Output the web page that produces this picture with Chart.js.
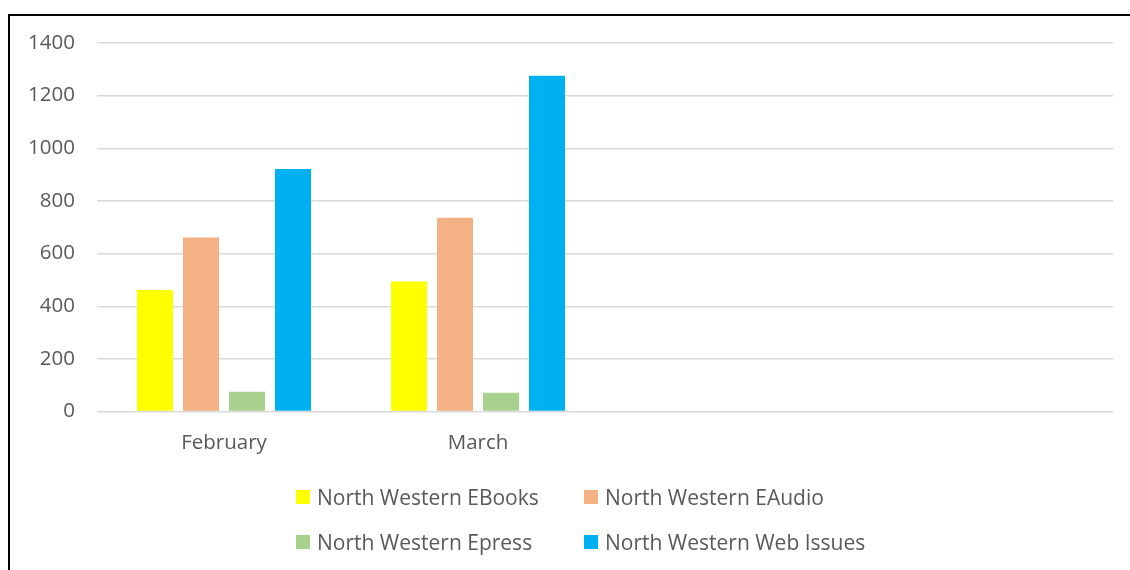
<!DOCTYPE html>
<html>
<head>
<meta charset="utf-8">
<script src="https://cdn.jsdelivr.net/npm/chart.js@4/dist/chart.umd.min.js"></script>
<style>
  html, body { margin: 0; padding: 0; background: #ffffff; }
  #wrap { position: relative; width: 1130px; height: 570px; overflow: hidden; background: #fff; }
  #frame { position: absolute; left: 8px; top: 14px; width: 1200px; height: 600px;
           border-left: 2px solid #000; border-top: 2px solid #000; box-sizing: border-box; }
  #cv { position: absolute; left: 0; top: 0; }
  .leg { position: absolute; font-family: "Open Sans", sans-serif; font-size: 21px; color: #595959;
         line-height: 24px; white-space: nowrap; }
  .leg .box { position: absolute; left: 0; top: 5px; width: 14px; height: 14px; }
  .leg .txt { position: absolute; left: 21px; top: 0; }
</style>
</head>
<body>
<div id="wrap">
  <div id="frame"></div>
  <canvas id="cv" width="1130" height="570"></canvas>
  <div id="legend"></div>
</div>
<script>
const categories = ['February', 'March', '', ''];
const seriesNames = ['North Western EBooks', 'North Western EAudio', 'North Western Epress', 'North Western Web Issues'];
const ebooks = [462, 494, null, null];
const eaudio = [661, 736, null, null];
const epress = [75, 71, null, null];
const webIssues = [921, 1276, null, null];
const seriesColors = ['#FFFF00', '#F4B183', '#A9D18E', '#00B0F0'];
const yTicks = [0, 200, 400, 600, 800, 1000, 1200, 1400];

const allSeries = [ebooks, eaudio, epress, webIssues];
const datasets = allSeries.map((d, i) => ({
  label: seriesNames[i],
  data: d,
  backgroundColor: seriesColors[i],
  borderWidth: 0,
  categoryPercentage: 0.7244,
  barPercentage: 0.7826
}));

const tickFont = { family: '"Open Sans", sans-serif', size: 20.5 };

new Chart(document.getElementById('cv'), {
  type: 'bar',
  data: { labels: categories, datasets },
  options: {
    responsive: false,
    animation: false,
    devicePixelRatio: 1,
    layout: { padding: { left: 0, top: 43, right: 17, bottom: 100 } },
    plugins: { legend: { display: false }, tooltip: { enabled: false } },
    scales: {
      x: {
        grid: { display: false, drawTicks: false },
        border: { display: false },
        ticks: { color: '#595959', font: tickFont, padding: 19.5, maxRotation: 0, autoSkip: false },
        afterFit: (s) => { s.height = 58.5; }
      },
      y: {
        min: yTicks[0],
        max: yTicks[yTicks.length - 1],
        afterBuildTicks: (s) => { s.ticks = yTicks.map(v => ({ value: v })); },
        grid: { color: '#d9d9d9', lineWidth: 1.4, drawTicks: false },
        border: { display: false },
        ticks: { color: '#595959', font: tickFont, padding: 22, callback: (v) => String(v) },
        afterFit: (s) => { s.width = 97; }
      }
    }
  }
});

// HTML legend (two columns, two rows)
const legPos = [[296, 485], [584, 485], [296, 530], [584, 530]];
const legend = document.getElementById('legend');
seriesNames.forEach((name, i) => {
  const el = document.createElement('div');
  el.className = 'leg';
  el.style.left = legPos[i][0] + 'px';
  el.style.top = legPos[i][1] + 'px';
  el.innerHTML = '<span class="box" style="background:' + seriesColors[i] + '"></span><span class="txt">' + name + '</span>';
  legend.appendChild(el);
});
</script>
</body>
</html>
